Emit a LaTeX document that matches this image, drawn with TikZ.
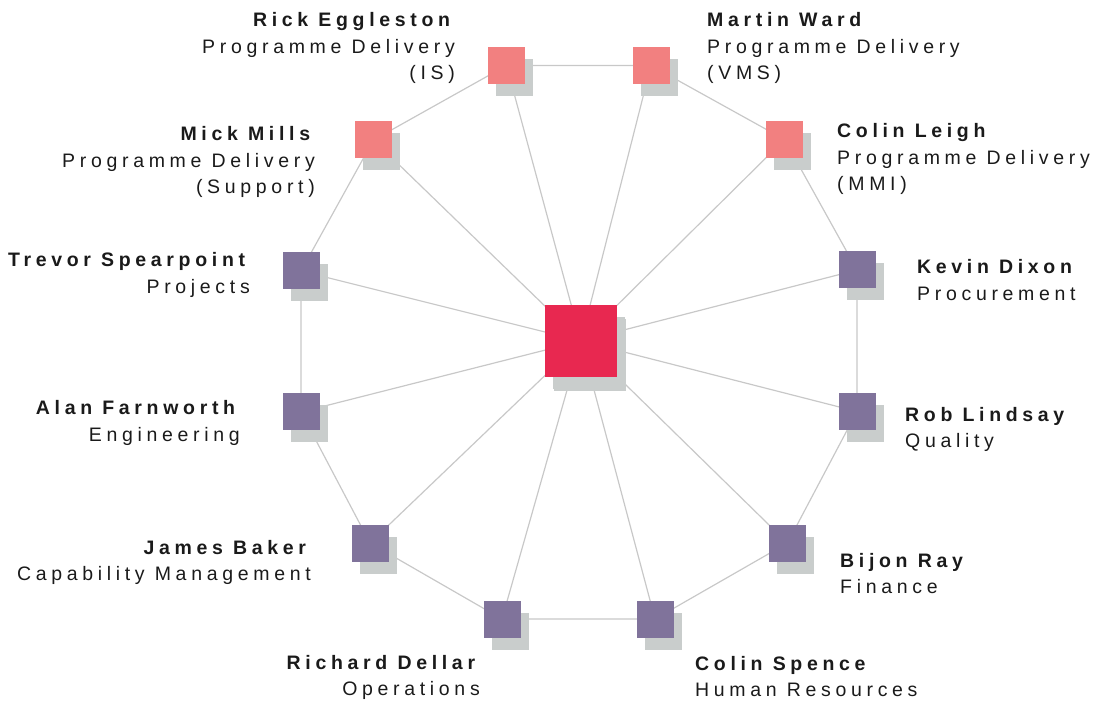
\documentclass[tikz,border=0pt]{standalone}
\usepackage{fontspec}
\setmainfont[LetterSpace=24]{Liberation Sans}
\usetikzlibrary{positioning,shadows,backgrounds}
\definecolor{lead}{HTML}{E82850}
\definecolor{delivery}{HTML}{F28080}
\definecolor{dept}{HTML}{80739B}
\definecolor{shade}{HTML}{C9CDCC}
\definecolor{link}{HTML}{C8C8C8}
\definecolor{ink}{HTML}{1A1A1A}

\begin{document}
\begin{tikzpicture}[x=1pt, y=-1pt,
  box/.style={rectangle, minimum size=37pt, inner sep=0pt,
    general shadow={fill=shade, shadow xshift=8pt, shadow yshift=-12pt}},
  prog/.style={box, fill=delivery},
  func/.style={box, fill=dept},
  who/.style={text=ink, inner sep=0pt, font=\fontsize{19.5}{26.5}\selectfont},
  westlbl/.style={who, anchor=base east, align=right},
  eastlbl/.style={who, anchor=base west, align=left}
]
  \useasboundingbox (0,0) rectangle (1104,703);
  % squares
  \node[box, fill=lead, minimum size=72pt,
    general shadow={fill=shade, shadow xshift=9pt, shadow yshift=-14pt}] (hub) at (581, 341) {};
  \node[prog] (rick)    at (506.5, 65.5) {};
  \node[prog] (martin)  at (651,   65.5) {};
  \node[prog] (mick)    at (373.5, 140)  {};
  \node[prog] (leigh)   at (784.5, 139.5){};
  \node[func] (trevor)  at (301,   271)  {};
  \node[func] (kevin)   at (857,   270)  {};
  \node[func] (alan)    at (301,   412)  {};
  \node[func] (rob)     at (857,   411.5){};
  \node[func] (james)   at (370,   543)  {};
  \node[func] (bijon)   at (787.5, 543)  {};
  \node[func] (richard) at (502,   619)  {};
  \node[func] (spence)  at (655,   619)  {};
  % labels (anchored on the last line)
  \node[westlbl] (rickl)    at (455, 80)    {\textbf{Rick Eggleston}\\Programme Delivery\\(IS)};
  \node[westlbl] (mickl)    at (315, 194)   {\textbf{Mick Mills}\\Programme Delivery\\(Support)};
  \node[westlbl] (trevorl)  at (250, 293.5) {\textbf{Trevor Spearpoint}\\Projects};
  \node[westlbl] (alanl)    at (240, 441.5) {\textbf{Alan Farnworth}\\Engineering};
  \node[westlbl] (jamesl)   at (311, 580.5) {\textbf{James Baker}\\Capability Management};
  \node[westlbl] (richardl) at (480, 695.5) {\textbf{Richard Dellar}\\Operations};
  \node[eastlbl] (martinl)  at (707, 80)    {\textbf{Martin Ward}\\Programme Delivery\\(VMS)};
  \node[eastlbl] (leighl)   at (837, 191)   {\textbf{Colin Leigh}\\Programme Delivery\\(MMI)};
  \node[eastlbl] (kevinl)   at (917, 300.5) {\textbf{Kevin Dixon}\\Procurement};
  \node[eastlbl] (robl)     at (905, 447.5) {\textbf{Rob Lindsay}\\Quality};
  \node[eastlbl] (bijonl)   at (840, 593.5) {\textbf{Bijon Ray}\\Finance};
  \node[eastlbl] (spencel)  at (695, 696.5) {\textbf{Colin Spence}\\Human Resources};
  % connectors
  \begin{scope}[on background layer]
    \draw[link, line width=1.2pt]
      (hub.center)--(rick.center) (hub.center)--(martin.center)
      (hub.center)--(mick.center) (hub.center)--(leigh.center)
      (hub.center)--(trevor.center) (hub.center)--(kevin.center)
      (hub.center)--(alan.center) (hub.center)--(rob.center)
      (hub.center)--(james.center) (hub.center)--(bijon.center)
      (hub.center)--(richard.center) (hub.center)--(spence.center);
    \draw[link, line width=1.2pt]
      (rick.center)--(martin.center)--(leigh.center)--(kevin.center)
      --(rob.center)--(bijon.center)--(spence.center)--(richard.center)
      --(james.center)--(alan.center)--(trevor.center)--(mick.center)
      --(rick.center);
  \end{scope}
\end{tikzpicture}
\end{document}
